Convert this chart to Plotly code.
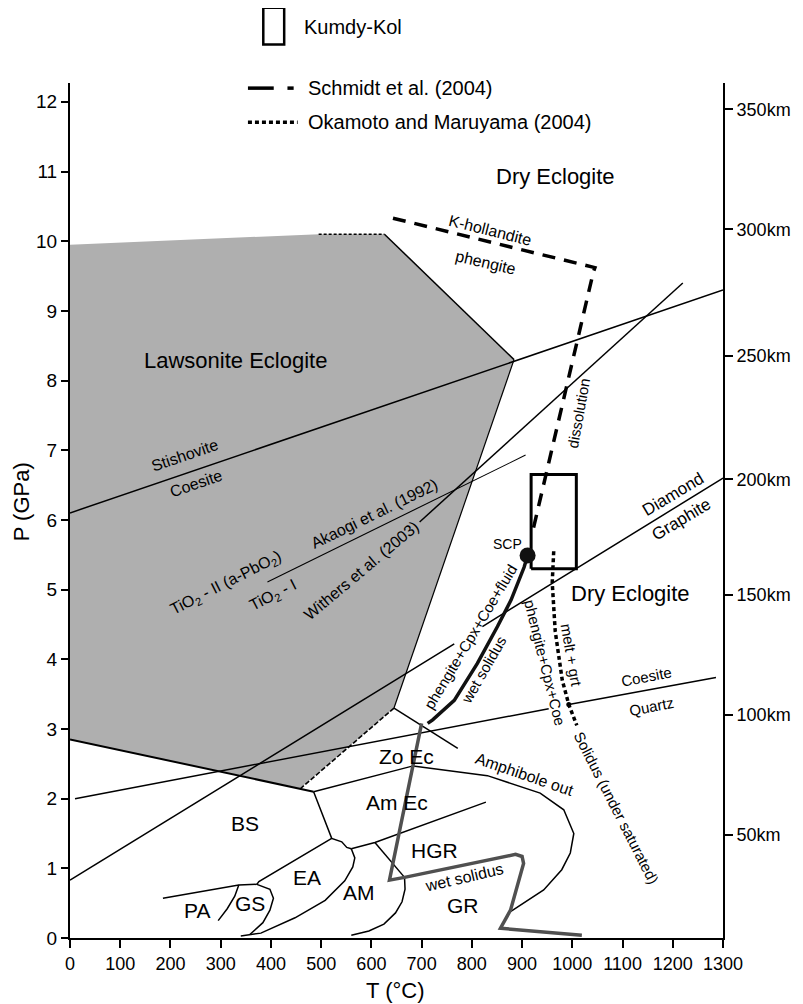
import plotly.graph_objects as go

# ---------------- data (T in deg C, P in GPa) ----------------
lws_T = [0, 495, 626, 884, 645, 458, 0]
lws_P = [9.95, 10.1, 10.1, 8.3, 3.3, 2.15, 2.85]

top_dot_T = [495, 626]
top_dot_P = [10.1, 10.1]
gray_ur_T = [626, 884]
gray_ur_P = [10.1, 8.3]
gray_r_T = [884, 645]
gray_r_P = [8.3, 3.3]
gray_lr_T = [645, 455]
gray_lr_P = [3.3, 2.12]
gray_b_T = [0, 485]
gray_b_P = [2.85, 2.1]

stish_T = [0, 1300]
stish_P = [6.1, 9.3]
dg1_T = [0, 765]
dg1_P = [0.83, 4.22]
dg2_T = [821, 1300]
dg2_P = [4.47, 6.6]
cq1_T = [10, 953]
cq1_P = [2.0, 3.29]
cq2_T = [993, 1286]
cq2_P = [3.35, 3.74]
akaogi_T = [393, 907]
akaogi_P = [5.11, 6.93]
withers_T = [696, 1220]
withers_P = [5.97, 9.4]

zoec_up_T = [645, 772]
zoec_up_P = [3.3, 2.72]
amph_T = [485, 683, 831, 936, 983, 1003, 996, 979, 943, 904, 877]
amph_P = [2.1, 2.47, 2.33, 2.08, 1.84, 1.5, 1.22, 0.98, 0.69, 0.5, 0.38]
bs_amec_T = [485, 521, 541, 551, 560]
bs_amec_P = [2.1, 1.43, 1.38, 1.3, 1.28]
amec_low_T = [560, 607, 828]
amec_low_P = [1.28, 1.37, 1.95]
hgr_am_T = [607, 666]
hgr_am_P = [1.37, 0.87]
am_gr_T = [666, 667, 661, 648, 625, 595, 560]
am_gr_P = [0.87, 0.7, 0.52, 0.36, 0.2, 0.1, 0.04]
ea_am_T = [560, 567, 563, 547, 508, 448, 380, 340]
ea_am_P = [1.28, 1.15, 1.02, 0.82, 0.54, 0.29, 0.07, 0.03]
bs_ea_T = [521, 376, 372]
bs_ea_P = [1.43, 0.81, 0.77]
pa_T = [185, 336, 372]
pa_P = [0.57, 0.76, 0.77]
gs_r_T = [372, 398, 405, 398, 384, 358]
gs_r_P = [0.77, 0.7, 0.57, 0.4, 0.22, 0.05]
gs_l_T = [336, 328, 313, 295]
gs_l_P = [0.76, 0.6, 0.42, 0.25]

wet1_T = [911, 904, 878, 851, 811, 765, 722, 712]
wet1_P = [5.49, 5.32, 4.85, 4.47, 3.94, 3.41, 3.13, 3.08]
wet2_T = [700, 636, 666, 887, 900, 903, 877, 857, 1019]
wet2_P = [3.08, 0.83, 0.87, 1.2, 1.17, 1.07, 0.4, 0.14, 0.04]

schmidt_T = [643, 1045, 1042, 920]
schmidt_P = [10.33, 9.62, 9.56, 5.8]
okamoto_T = [963, 960, 966, 980, 993, 1009]
okamoto_P = [5.55, 5.1, 4.4, 3.7, 3.35, 3.05]

kk_T = [918, 1008]
kk_P = [5.3, 6.65]
scp_T = [911]
scp_P = [5.49]

x_ticks = list(range(0, 1301, 100))
y_ticks = list(range(0, 13))
km_labels = ["50km", "100km", "150km", "200km", "250km", "300km", "350km"]
km_P = [1.48, 3.2, 4.92, 6.58, 8.35, 10.17, 11.89]

FONT = "Liberation Sans, Arial, sans-serif"

fig = go.Figure()

fig.add_trace(go.Scatter(x=lws_T, y=lws_P, fill="toself", fillcolor="#afafaf",
                         mode="lines", line=dict(width=0), hoverinfo="skip"))


def add_line(T, P, width=1.5, color="black", dash="solid"):
    fig.add_trace(go.Scatter(x=T, y=P, mode="lines",
                             line=dict(width=width, color=color, dash=dash),
                             hoverinfo="skip"))


add_line(top_dot_T, top_dot_P, 1.5, dash="3px,2px")
add_line(gray_ur_T, gray_ur_P, 1.5)
add_line(gray_r_T, gray_r_P, 1.2)
add_line(gray_lr_T, gray_lr_P, 1.6, dash="5px,2px")
add_line(gray_b_T, gray_b_P, 2)
add_line(stish_T, stish_P, 1.5)
add_line(dg1_T, dg1_P, 1.5)
add_line(dg2_T, dg2_P, 1.5)
add_line(cq1_T, cq1_P, 1.5)
add_line(cq2_T, cq2_P, 1.5)
add_line(akaogi_T, akaogi_P, 1.1)
add_line(withers_T, withers_P, 1.5)
add_line(zoec_up_T, zoec_up_P, 1.5)
for T, P in [(amph_T, amph_P), (bs_amec_T, bs_amec_P), (amec_low_T, amec_low_P),
             (hgr_am_T, hgr_am_P), (am_gr_T, am_gr_P), (ea_am_T, ea_am_P),
             (bs_ea_T, bs_ea_P), (pa_T, pa_P), (gs_r_T, gs_r_P), (gs_l_T, gs_l_P)]:
    add_line(T, P, 1.5)

add_line(wet1_T, wet1_P, 3.5, color="#111111")
add_line(wet2_T, wet2_P, 3.5, color="#505050")
add_line(schmidt_T, schmidt_P, 3.5, dash="13px,9px")
add_line(okamoto_T, okamoto_P, 3.5, dash="4px,3px")

# Kumdy-Kol box
fig.add_trace(go.Scatter(x=[kk_T[0], kk_T[1], kk_T[1], kk_T[0], kk_T[0]],
                         y=[kk_P[0], kk_P[0], kk_P[1], kk_P[1], kk_P[0]],
                         mode="lines", line=dict(width=3, color="black"),
                         hoverinfo="skip"))
# SCP
fig.add_trace(go.Scatter(x=scp_T, y=scp_P, mode="markers",
                         marker=dict(size=16, color="#111111"), hoverinfo="skip"))
# end dot on coesite-quartz
fig.add_trace(go.Scatter(x=cq2_T[:1], y=cq2_P[:1], mode="markers",
                         marker=dict(size=5, color="black"), hoverinfo="skip"))

# invisible trace for right axis
fig.add_trace(go.Scatter(x=[0], y=[0], yaxis="y2", mode="markers",
                         marker=dict(opacity=0), hoverinfo="skip"))

labels = [
    ("Dry Eclogite", 966, 10.93, 22, 0),
    ("Lawsonite Eclogite", 330, 8.29, 22, 0),
    ("Dry Eclogite", 1115, 4.95, 22, 0),
    ("K-hollandite", 838, 10.16, 16, 14),
    ("phengite", 828, 9.7, 16, 13),
    ("dissolution", 1012, 7.53, 15, -80),
    ("Stishovite", 227, 6.93, 16, -19),
    ("Coesite", 251, 6.52, 16, -19),
    ("Akaogi et al. (1992)", 607, 6.09, 16, -26),
    ("Withers et al. (2003)", 580, 5.28, 16, -40),
    ("TiO<sub>2</sub> - II (a-PbO<sub>2</sub>)", 310, 5.09, 16, -27),
    ("TiO<sub>2</sub> - I", 405, 4.92, 16, -27),
    ("SCP", 871, 5.66, 14, 0),
    ("Diamond", 1200, 6.37, 17, -31),
    ("Graphite", 1217, 6.0, 17, -31),
    ("phengite+Cpx+Coe+fluid", 798, 4.32, 15, -59),
    ("wet solidus", 824, 3.85, 15, -60),
    ("phengite+Cpx+Coe", 945, 3.95, 15, 76),
    ("melt + grt", 999, 4.06, 15, 80),
    ("Coesite", 1148, 3.75, 15, -11),
    ("Quartz", 1157, 3.32, 15, -11),
    ("Solidus (under saturated)", 1088, 1.88, 15, 63),
    ("Amphibole out", 905, 2.34, 16, 19),
    ("Zo Ec", 669, 2.6, 21, 0),
    ("Am Ec", 650, 1.95, 21, 0),
    ("BS", 348, 1.65, 21, 0),
    ("HGR", 726, 1.26, 21, 0),
    ("EA", 472, 0.87, 21, 0),
    ("AM", 576, 0.66, 21, 0),
    ("PA", 253, 0.4, 21, 0),
    ("GS", 359, 0.49, 21, 0),
    ("GR", 782, 0.46, 21, 0),
    ("wet solidus", 784, 0.87, 16, -13),
]
for text, T, P, size, ang in labels:
    fig.add_annotation(x=T, y=P, text=text, showarrow=False, textangle=ang,
                       xanchor="center", yanchor="middle",
                       font=dict(size=size, family=FONT, color="black"))

# axis titles
fig.add_annotation(xref="paper", yref="paper", x=0.499, y=-0.061, text="T (°C)",
                   xanchor="center", yanchor="middle", showarrow=False,
                   font=dict(size=22, family=FONT, color="black"))
fig.add_annotation(xref="paper", yref="paper", x=-0.073, y=0.51, text="P (GPa)",
                   xanchor="center", yanchor="middle", textangle=-90, showarrow=False,
                   font=dict(size=22, family=FONT, color="black"))

# manual legend
fig.add_shape(type="rect", xref="paper", yref="paper", x0=0.296, x1=0.328,
              y0=1.045, y1=1.088, line=dict(color="black", width=2.5))
fig.add_annotation(xref="paper", yref="paper", x=0.355, y=1.066, xanchor="left",
                   yanchor="middle", text="Kumdy-Kol", showarrow=False,
                   font=dict(size=20, family=FONT, color="black"))
fig.add_shape(type="line", xref="paper", yref="paper", x0=0.2725, x1=0.312,
              y0=0.994, y1=0.994, line=dict(color="black", width=3.5))
fig.add_shape(type="line", xref="paper", yref="paper", x0=0.333, x1=0.3425,
              y0=0.994, y1=0.994, line=dict(color="black", width=3.5))
fig.add_annotation(xref="paper", yref="paper", x=0.362, y=0.994, xanchor="left",
                   yanchor="middle", text="Schmidt et al. (2004)", showarrow=False,
                   font=dict(size=20, family=FONT, color="black"))
fig.add_shape(type="line", xref="paper", yref="paper", x0=0.2725, x1=0.3486,
              y0=0.954, y1=0.954, line=dict(color="black", width=3.5, dash="4px,3px"))
fig.add_annotation(xref="paper", yref="paper", x=0.362, y=0.954, xanchor="left",
                   yanchor="middle", text="Okamoto and Maruyama (2004)", showarrow=False,
                   font=dict(size=20, family=FONT, color="black"))

YMAX = 12.27
# the page body has an 8px margin, so the figure is sized/margined to put the
# plot area at the same screen position as in the reference
fig.update_layout(
    width=795, height=996,
    margin=dict(l=62, r=76, t=75, b=66),
    plot_bgcolor="white", paper_bgcolor="white",
    showlegend=False,
    font=dict(family=FONT, size=18, color="black"),
    xaxis=dict(range=[0, 1300], tickvals=x_ticks, showgrid=False, zeroline=False,
               showline=True, linecolor="black", linewidth=2, ticks="outside",
               ticklen=8, tickwidth=1.5, tickcolor="black",
               tickfont=dict(size=18, family=FONT, color="black")),
    yaxis=dict(range=[0, YMAX], tickvals=y_ticks, showgrid=False, zeroline=False,
               showline=True, linecolor="black", linewidth=2, ticks="outside",
               ticklen=7, tickwidth=1.5, tickcolor="black",
               tickfont=dict(size=19, family=FONT, color="black")),
    yaxis2=dict(range=[0, YMAX], overlaying="y", side="right", tickvals=km_P,
                ticktext=km_labels, showgrid=False, zeroline=False,
                showline=True, linecolor="black", linewidth=2, ticks="outside",
                ticklen=8, tickwidth=1.5, tickcolor="black",
                tickfont=dict(size=18, family=FONT, color="black")),
)

fig.write_html("out.html")
